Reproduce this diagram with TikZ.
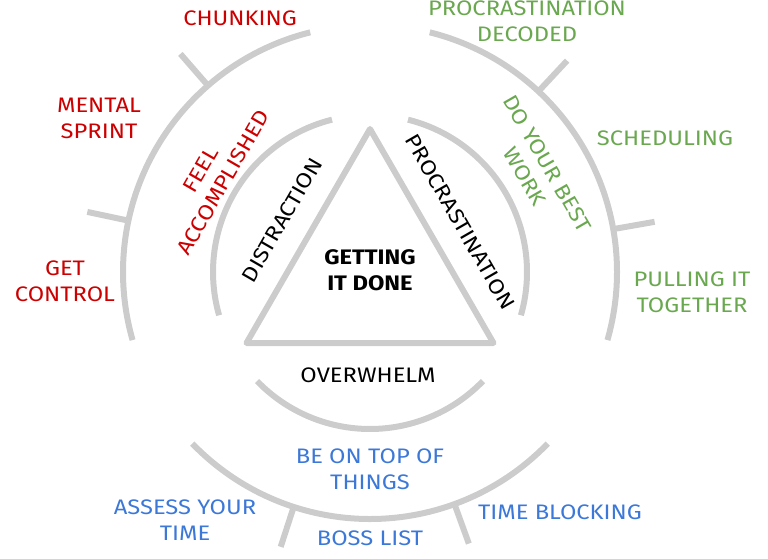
\documentclass[tikz,border=0pt]{standalone}
\usepackage{fontspec}
\setmainfont{Fira Sans}[FakeStretch=1.13]
\definecolor{lgray}{HTML}{CCCCCC}
\definecolor{rred}{HTML}{CC0000}
\definecolor{ggreen}{HTML}{6AA84F}
\definecolor{bblue}{HTML}{3C78D8}
\begin{document}
\begin{tikzpicture}[x=1pt,y=1pt,
  ring/.style={draw=lgray, line width=6pt},
  lbl/.style={align=center, inner sep=0pt, font=\fontsize{21}{26}\selectfont},
  redl/.style={lbl, text=rred},
  greenl/.style={lbl, text=ggreen},
  bluel/.style={lbl, text=bblue},
  blackl/.style={lbl, text=black}]
\useasboundingbox (0,0) rectangle (768,-559);
\coordinate (c) at (370,-272);
% triangle
\coordinate (t1) at (370,-129);
\coordinate (t2) at (246.5,-343);
\coordinate (t3) at (493.5,-343);
\draw[ring, line join=round] (t1) -- (t2) -- (t3) -- cycle;
% inner arcs
\draw[ring] (c) ++(104:157) arc[start angle=104, end angle=196, radius=157];
\draw[ring] (c) ++(224:157) arc[start angle=224, end angle=316, radius=157];
\draw[ring] (c) ++(-16:157) arc[start angle=-16, end angle=76, radius=157];
% outer arcs
\draw[ring] (c) ++(104:247) arc[start angle=104, end angle=196, radius=247];
\draw[ring] (c) ++(224:247) arc[start angle=224, end angle=316, radius=247];
\draw[ring] (c) ++(-16:247) arc[start angle=-16, end angle=76, radius=247];
% ticks
\foreach \a in {131,168,47,10,252,290}
  \draw[ring] (c) ++(\a:245) -- ++(\a:44);
% centre labels
\node[blackl, font=\fontsize{21}{26}\selectfont\bfseries] (done) at (370,-270) {GETTING\\IT DONE};
\node[blackl, rotate=60] (dist) at (282,-220) {DISTRACTION};
\node[blackl, rotate=-60] (proc) at (460,-222) {PROCRASTINATION};
\node[blackl] (over) at (368,-375) {OVERWHELM};
% ring labels
\node[redl, rotate=60] (feel) at (212,-176) {FEEL\\ACCOMPLISHED};
\node[greenl, rotate=-60] (best) at (536,-170) {DO YOUR BEST\\WORK};
\node[bluel] (top) at (370,-469) {BE ON TOP OF\\THINGS};
% outer labels
\node[redl] (chunk) at (240,-18) {CHUNKING};
\node[redl] (sprint) at (99,-118) {MENTAL\\SPRINT};
\node[redl] (ctrl) at (65,-281) {GET\\CONTROL};
\node[greenl] (decoded) at (527,-21) {PROCRASTINATION\\DECODED};
\node[greenl] (sched) at (665,-138) {SCHEDULING};
\node[greenl] (pull) at (692,-292) {PULLING IT\\TOGETHER};
\node[bluel] (assess) at (185,-520) {ASSESS YOUR\\TIME};
\node[bluel] (boss) at (370,-538) {BOSS LIST};
\node[bluel] (block) at (560,-512) {TIME BLOCKING};
\end{tikzpicture}
\end{document}
